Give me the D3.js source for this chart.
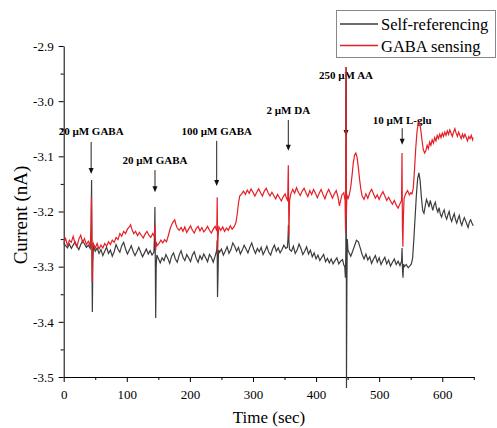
<!DOCTYPE html>
<html>
<head>
<meta charset="utf-8">
<script src="https://cdn.jsdelivr.net/npm/d3@7"></script>
<style>
  body { margin: 0; background: #fff; }
  text { font-family: "Liberation Serif", "Times New Roman", serif; }
</style>
</head>
<body>
<div id="chart"></div>
<script>
// series names
var seriesNames = ["Self-referencing", "GABA sensing"];

// self-referencing trace, [time (sec), current (nA)]
var selfData = [
  [0,-3.258],[3,-3.262],[6,-3.266],[9,-3.259],[12,-3.267],[15,-3.261],[18,-3.255],[21,-3.263],[24,-3.269],[27,-3.260],[30,-3.253],[33,-3.259],[36,-3.265],[39,-3.261],[42,-3.267],
  [43.5,-3.23],[44.2,-3.143],[44.8,-3.29],[45.4,-3.382],[46.2,-3.29],[47.2,-3.262],
  [50,-3.272],[53,-3.266],[56,-3.276],[59,-3.269],[62,-3.280],[65,-3.272],[68,-3.265],[71,-3.276],[74,-3.270],[77,-3.281],[80,-3.273],[83,-3.260],[86,-3.268],[89,-3.274],[92,-3.262],[95,-3.256],[98,-3.268],[101,-3.277],[104,-3.270],[107,-3.262],[110,-3.272],[113,-3.280],[116,-3.273],[119,-3.265],[122,-3.274],[125,-3.282],[128,-3.275],[131,-3.268],[134,-3.277],[137,-3.271],[140,-3.279],[143,-3.274],
  [144,-3.24],[144.6,-3.192],[145.2,-3.29],[145.8,-3.393],[146.6,-3.30],[147.6,-3.279],
  [150,-3.285],[153,-3.293],[156,-3.284],[159,-3.289],[162,-3.278],[165,-3.285],[168,-3.294],[171,-3.281],[174,-3.275],[177,-3.286],[180,-3.292],[183,-3.279],[186,-3.271],[189,-3.283],[192,-3.289],[195,-3.278],[198,-3.284],[201,-3.291],[204,-3.279],[207,-3.273],[210,-3.285],[213,-3.292],[216,-3.280],[219,-3.287],[222,-3.277],[225,-3.284],[228,-3.291],[231,-3.278],[234,-3.283],[237,-3.292],[240,-3.281],
  [242.6,-3.27],[243.2,-3.252],[243.8,-3.355],[244.5,-3.32],[245.4,-3.27],
  [247,-3.274],[250,-3.268],[253,-3.279],[256,-3.272],[259,-3.264],[262,-3.276],[265,-3.269],[268,-3.257],[271,-3.263],[274,-3.272],[277,-3.265],[280,-3.277],[283,-3.270],[286,-3.261],[289,-3.268],[292,-3.275],[295,-3.265],[298,-3.257],[301,-3.268],[304,-3.276],[307,-3.267],[310,-3.273],[313,-3.265],[316,-3.278],[319,-3.271],[322,-3.263],[325,-3.274],[328,-3.279],[331,-3.268],[334,-3.261],[337,-3.272],[340,-3.266],[343,-3.275],[346,-3.269],[349,-3.261],[352,-3.267],[354.5,-3.265],
  [355.5,-3.25],[356.2,-3.224],[357,-3.255],[358,-3.269],
  [361,-3.272],[364,-3.263],[367,-3.276],[370,-3.270],[373,-3.259],[376,-3.267],[379,-3.278],[382,-3.272],[385,-3.264],[388,-3.277],[391,-3.270],[394,-3.282],[397,-3.275],[400,-3.286],[403,-3.279],[406,-3.289],[409,-3.283],[412,-3.278],[415,-3.291],[418,-3.285],[421,-3.293],[424,-3.286],[427,-3.295],[430,-3.289],[433,-3.284],[436,-3.295],[439,-3.290],[442,-3.287],[444,-3.297],
  [445.5,-3.30],[446.5,-3.32],[447.2,-3.27],[447.7,-2.938],[448.2,-3.52],[448.8,-3.34],[449.5,-3.25],[450.5,-3.27],
  [452,-3.274],[455,-3.281],[458,-3.272],[461,-3.262],[464,-3.252],[467,-3.255],[470,-3.266],[473,-3.278],[476,-3.286],[479,-3.277],[482,-3.288],[485,-3.282],[488,-3.294],[491,-3.286],[494,-3.280],[497,-3.292],[500,-3.284],[503,-3.296],[506,-3.289],[509,-3.283],[512,-3.295],[515,-3.288],[518,-3.299],[521,-3.292],[524,-3.286],[527,-3.296],[530,-3.290],[533,-3.298],[535.5,-3.29],
  [536.3,-3.266],[537,-3.305],[537.8,-3.32],[538.6,-3.295],
  [540,-3.300],[543,-3.296],[546,-3.302],[549,-3.298],[551,-3.295],[553,-3.285],[555,-3.25],[557,-3.21],[559,-3.17],[561,-3.14],[563,-3.130],[565,-3.145],[567,-3.175],[569,-3.198],[571,-3.203],[573,-3.190],[575,-3.178],[577,-3.184],[579,-3.192],[581,-3.180],[583,-3.189],[585,-3.198],[587,-3.188],[589,-3.183],[591,-3.195],[593,-3.201],[595,-3.193],[597,-3.205],[599,-3.210],[601,-3.202],[603,-3.197],[605,-3.208],[607,-3.214],[609,-3.206],[611,-3.200],[613,-3.212],[615,-3.218],[617,-3.210],[619,-3.204],[621,-3.215],[623,-3.221],[625,-3.213],[627,-3.207],[629,-3.219],[631,-3.225],[633,-3.217],[635,-3.211],[637,-3.217],[639,-3.223],[641,-3.229],[643,-3.219],[645,-3.215],[647,-3.221],[649,-3.226]
];

// GABA sensing trace, [time (sec), current (nA)]
var gabaData = [
  [0,-3.256],[3,-3.249],[6,-3.262],[9,-3.252],[12,-3.256],[15,-3.245],[18,-3.258],[21,-3.264],[24,-3.250],[27,-3.243],[30,-3.256],[33,-3.249],[36,-3.260],[39,-3.254],[42,-3.262],
  [43.3,-3.24],[44,-3.174],[44.7,-3.25],[45.3,-3.328],[46,-3.265],[47,-3.258],
  [50,-3.266],[53,-3.258],[56,-3.268],[59,-3.261],[62,-3.266],[65,-3.258],[68,-3.263],[71,-3.255],[74,-3.260],[77,-3.252],[80,-3.256],[83,-3.247],[86,-3.251],[89,-3.240],[92,-3.245],[95,-3.236],[98,-3.240],[101,-3.232],[104,-3.228],[106,-3.224],[108,-3.232],[111,-3.240],[114,-3.236],[117,-3.244],[120,-3.238],[123,-3.243],[126,-3.248],[129,-3.241],[132,-3.236],[135,-3.243],[138,-3.247],[141,-3.240],[143,-3.244],
  [143.8,-3.24],[144.5,-3.224],[145.1,-3.25],[145.8,-3.27],[146.6,-3.255],
  [148,-3.262],[151,-3.258],[154,-3.252],[157,-3.257],[160,-3.251],[163,-3.255],[166,-3.243],[169,-3.230],[172,-3.222],[174,-3.218],[176,-3.215],[178,-3.224],[180,-3.230],[183,-3.234],[186,-3.229],[189,-3.236],[192,-3.228],[195,-3.238],[198,-3.232],[201,-3.226],[204,-3.234],[207,-3.239],[210,-3.231],[213,-3.227],[216,-3.235],[219,-3.229],[222,-3.237],[225,-3.233],[228,-3.227],[231,-3.234],[234,-3.239],[237,-3.232],[240,-3.227],[242,-3.233],
  [242.7,-3.23],[243.3,-3.174],[244,-3.275],[244.8,-3.245],[246,-3.228],
  [249,-3.234],[252,-3.228],[255,-3.236],[258,-3.230],[261,-3.234],[264,-3.226],[267,-3.232],[270,-3.228],[273,-3.220],[275,-3.205],[277,-3.185],[279,-3.172],[282,-3.168],[285,-3.163],[288,-3.169],[291,-3.161],[294,-3.167],[297,-3.159],[300,-3.165],[303,-3.172],[306,-3.165],[309,-3.159],[312,-3.166],[315,-3.172],[318,-3.163],[321,-3.158],[324,-3.166],[327,-3.172],[330,-3.165],[333,-3.171],[336,-3.177],[339,-3.169],[342,-3.175],[345,-3.181],[348,-3.173],[351,-3.168],[353,-3.176],
  [355,-3.18],[356,-3.116],[357,-3.246],[358,-3.18],
  [360,-3.168],[363,-3.160],[366,-3.167],[369,-3.157],[372,-3.165],[375,-3.171],[378,-3.163],[381,-3.158],[384,-3.166],[387,-3.173],[390,-3.162],[393,-3.169],[396,-3.160],[399,-3.167],[402,-3.175],[405,-3.167],[408,-3.160],[411,-3.169],[414,-3.177],[417,-3.167],[420,-3.160],[423,-3.168],[426,-3.176],[429,-3.168],[432,-3.162],[435,-3.175],[437,-3.190],[439,-3.180],[441,-3.170],[444,-3.166],
  [446,-3.18],[446.8,-3.239],[447.4,-2.938],[448,-3.21],[448.6,-3.18],[449.5,-3.172],
  [451,-3.176],[453,-3.168],[455,-3.155],[457,-3.135],[459,-3.112],[461,-3.098],[463,-3.094],[465,-3.102],[467,-3.120],[469,-3.142],[471,-3.160],[473,-3.172],[476,-3.178],[479,-3.168],[482,-3.176],[485,-3.166],[488,-3.160],[491,-3.168],[494,-3.176],[497,-3.170],[500,-3.178],[503,-3.170],[506,-3.164],[509,-3.172],[512,-3.180],[515,-3.174],[518,-3.181],[521,-3.187],[524,-3.180],[527,-3.188],[530,-3.194],[533,-3.186],
  [535.5,-3.18],[536.2,-3.094],[536.9,-3.23],[537.6,-3.264],[538.4,-3.21],[539.5,-3.176],
  [542,-3.168],[545,-3.162],[548,-3.170],[550,-3.166],[552,-3.168],[554,-3.158],[556,-3.125],[558,-3.085],[560,-3.055],[562,-3.040],[564,-3.038],[566,-3.052],[568,-3.072],[570,-3.088],[572,-3.094],[574,-3.090],[576,-3.080],[578,-3.086],[580,-3.074],[582,-3.080],[584,-3.070],[586,-3.076],[588,-3.066],[590,-3.072],[592,-3.062],[594,-3.068],[596,-3.060],[598,-3.066],[600,-3.058],[602,-3.064],[604,-3.056],[606,-3.062],[608,-3.054],[610,-3.060],[612,-3.052],[614,-3.058],[616,-3.064],[618,-3.056],[620,-3.050],[622,-3.058],[624,-3.064],[626,-3.056],[628,-3.062],[630,-3.068],[632,-3.060],[634,-3.066],[636,-3.060],[638,-3.066],[640,-3.072],[642,-3.064],[644,-3.068],[646,-3.062],[648,-3.070],[649,-3.066]
];

// injections: label, time, label baseline, arrow top, arrow tip (nA)
var annoLabels = ["20 \u00b5M GABA", "20 \u00b5M GABA", "100 \u00b5M GABA", "2 \u00b5M DA", "250 \u00b5M AA", "10 \u00b5M L-glu"];
var annoTime = [43.5, 144.7, 242.5, 356, 447.5, 536.5];
var annoTextY = [-3.061, -3.114, -3.061, -3.023, -2.960, -3.041];
var annoTop = [-3.074, -3.125, -3.072, -3.034, -2.962, -3.049];
var annoTip = [-3.132, -3.165, -3.154, -3.090, -3.063, -3.079];

// axis ticks
var xTicks = [0, 100, 200, 300, 400, 500, 600];
var xMinor = [50, 150, 250, 350, 450, 550, 650];
var yTicks = [-3.5, -3.4, -3.3, -3.2, -3.1, -3.0, -2.9];
var yMinor = [-3.45, -3.35, -3.25, -3.15, -3.05, -2.95];

var colors = ["#3c3c3c", "#e41f26"];

var W = 497, H = 428;
var svg = d3.select("#chart").append("svg")
  .attr("width", W).attr("height", H);

var x = d3.scaleLinear().domain([0, 650]).range([63.7, 473.8]);
var y = d3.scaleLinear().domain([-3.5, -2.9]).range([377, 46]);

// axes
var xAxis = svg.append("g").attr("transform", "translate(0," + y(-3.5) + ")");
xAxis.call(d3.axisBottom(x).tickValues(xTicks).tickSize(5).tickSizeOuter(0).tickPadding(8)
  .tickFormat(function(d){ return d; }));
xAxis.append("g").call(d3.axisBottom(x).tickValues(xMinor).tickSize(3).tickFormat(""))
  .select(".domain").remove();
xAxis.selectAll("text").style("font-size", "13px").attr("fill", "#000")
  .style("font-family", '"Liberation Serif", serif');

var yAxis = svg.append("g").attr("transform", "translate(" + x(0) + ",0)");
yAxis.call(d3.axisLeft(y).tickValues(yTicks).tickSize(5).tickSizeOuter(0).tickPadding(5)
  .tickFormat(function(d){ return d.toFixed(1); }));
yAxis.append("g").call(d3.axisLeft(y).tickValues(yMinor).tickSize(3).tickFormat(""))
  .select(".domain").remove();
yAxis.selectAll("text").style("font-size", "13px").attr("fill", "#000")
  .style("font-family", '"Liberation Serif", serif');
svg.selectAll(".domain, .tick line").attr("stroke", "#000");

// axis titles
svg.append("text")
  .attr("x", 269).attr("y", 423)
  .attr("text-anchor", "middle")
  .style("font-size", "17px")
  .text("Time (sec)");
svg.append("text")
  .attr("transform", "translate(27,215) rotate(-90)")
  .attr("text-anchor", "middle")
  .style("font-size", "19px")
  .text("Current (nA)");

// annotations
var anno = annoLabels.map(function(d, i){
  return {label: d, t: annoTime[i], ty: annoTextY[i], top: annoTop[i], tip: annoTip[i]};
});
var ag = svg.selectAll(".anno").data(anno).enter().append("g").attr("class", "anno");
ag.append("text")
  .attr("x", function(d){ return x(d.t); })
  .attr("y", function(d){ return y(d.ty); })
  .attr("text-anchor", "middle")
  .style("font-size", "11px").style("font-weight", "bold")
  .text(function(d){ return d.label; });
ag.append("line")
  .attr("x1", function(d){ return x(d.t); }).attr("x2", function(d){ return x(d.t); })
  .attr("y1", function(d){ return y(d.top); }).attr("y2", function(d){ return y(d.tip) - 4; })
  .attr("stroke", "#222").attr("stroke-width", 1);
ag.append("path")
  .attr("d", function(d){
    var px = x(d.t), py = y(d.tip);
    return "M" + (px - 2.5) + "," + (py - 6) + "L" + (px + 2.5) + "," + (py - 6) + "L" + px + "," + py + "Z";
  })
  .attr("fill", "#111");

// traces
var traceLine = d3.line()
  .x(function(d){ return x(d[0]); })
  .y(function(d){ return y(d[1]); });

svg.selectAll(".trace")
  .data([selfData, gabaData])
  .enter().append("path")
  .attr("class", "trace")
  .attr("d", traceLine)
  .attr("fill", "none")
  .style("stroke", function(d, i){ return colors[i]; })
  .attr("stroke-width", 1.2);

// legend
var lg = svg.append("g").attr("class", "legend");
lg.append("rect")
  .attr("x", 336.5).attr("y", 10.5).attr("width", 159).attr("height", 47)
  .attr("fill", "#fff").attr("stroke", "#888").attr("stroke-width", 1);
var items = lg.selectAll(".item").data(seriesNames).enter().append("g")
  .attr("class", "item")
  .attr("transform", function(d, i){ return "translate(0," + (24 + i * 21.5) + ")"; });
items.append("path")
  .attr("d", "M340,0H378")
  .attr("fill", "none")
  .style("stroke", function(d, i){ return colors[i]; })
  .style("stroke-width", "1.3px");
items.append("text")
  .attr("x", 381).attr("y", 6)
  .style("font-size", "16.5px")
  .text(function(d){ return d; });
</script>
</body>
</html>
